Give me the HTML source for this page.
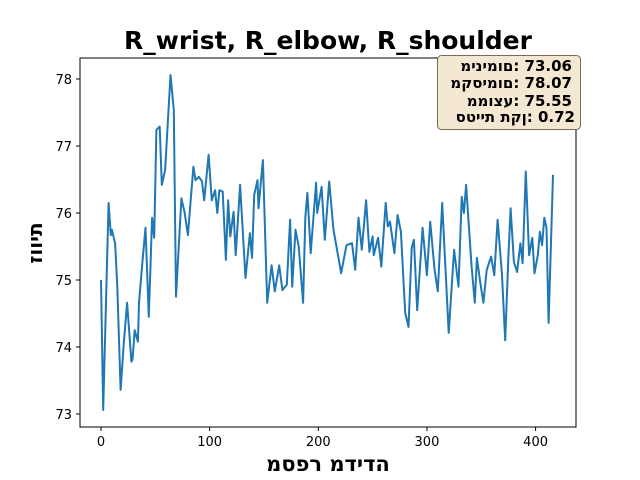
<!DOCTYPE html>
<html><head><meta charset="utf-8"><style>
body{margin:0;background:#fff;}
svg{display:block;font-family:"DejaVu Sans","Liberation Sans",sans-serif;}
.hb{unicode-bidi:bidi-override;direction:ltr;}
</style></head><body>
<svg id="chart" width="640" height="480" viewBox="0 0 640 480">
<rect width="640" height="480" fill="#fff"/>
<text x="328" y="49" text-anchor="middle" font-size="25" font-weight="bold">R_wrist, R_elbow, R_shoulder</text>
<g id="axes"></g>
<path id="series" fill="none" stroke="#1f77b4" stroke-width="2" stroke-linejoin="round"/>
<rect x="80" y="58" width="496" height="369" fill="none" stroke="#000" stroke-width="1"/>
<g>
<rect x="437.5" y="55.5" width="143" height="74" rx="4" fill="#f5e8d2" stroke="#7a6a58" stroke-width="1"/>
<text class="hb" direction="ltr" unicode-bidi="bidi-override" x="572" y="71" text-anchor="end" font-size="15" font-weight="bold">מינימום: 73.06</text>
<text class="hb" direction="ltr" unicode-bidi="bidi-override" x="572" y="88" text-anchor="end" font-size="15" font-weight="bold">מקסימום: 78.07</text>
<text class="hb" direction="ltr" unicode-bidi="bidi-override" x="572" y="106" text-anchor="end" font-size="15" font-weight="bold">ממוצע: 75.55</text>
<text class="hb" direction="ltr" unicode-bidi="bidi-override" x="575" y="122" text-anchor="end" font-size="15" font-weight="bold">סטיית תקן: 0.72</text>
</g>
<text class="hb" direction="ltr" unicode-bidi="bidi-override" x="328" y="471" text-anchor="middle" font-size="21" font-weight="bold">מספר מדידה</text>
<text class="hb" direction="ltr" unicode-bidi="bidi-override" transform="translate(42,243) rotate(-90)" text-anchor="middle" font-size="20" font-weight="bold">זווית</text>
</svg>
<script>
const indices=[0,2,5,7,9,10,13,15,18,21,24,28,29,31,34,35,38,41,44,47,49,51,54,56,59,64,67,69,74,77,80,85,87,90,93,95,99,102,105,107,109,112,115,117,119,122,124,128,133,137,139,141,144,145,149,153,157,160,164,167,171,174,176,179,182,186,188,190,193,198,199,203,206,210,214,220,221,226,231,234,237,240,244,247,250,251,255,258,262,264,266,270,273,276,280,283,286,288,291,296,300,303,307,310,314,320,325,329,332,334,336,341,344,346,349,352,355,359,362,365,369,372,375,377,380,383,386,388,391,394,397,399,402,404,406,408,410,412,416];
const values=[75.00,73.06,74.90,76.15,75.67,75.75,75.55,74.90,73.36,74.06,74.66,73.78,73.81,74.25,74.08,74.66,75.25,75.78,74.45,75.93,75.63,77.24,77.29,76.42,76.64,78.06,77.54,74.75,76.22,76.00,75.67,76.69,76.49,76.54,76.47,76.19,76.87,76.19,76.34,76.00,76.34,76.32,75.30,76.19,75.65,76.02,75.37,76.42,75.03,75.70,75.33,76.27,76.49,76.07,76.79,74.66,75.22,74.83,75.22,74.85,74.93,75.90,74.90,75.75,75.50,74.66,75.93,76.30,75.40,76.45,76.00,76.39,75.60,76.47,75.75,75.20,75.10,75.52,75.55,75.15,75.93,75.45,76.19,75.42,75.65,75.37,75.63,75.20,76.15,75.80,75.87,75.40,75.97,75.72,74.51,74.30,75.48,75.60,74.55,75.78,75.07,75.87,75.15,74.83,76.15,74.21,75.45,74.90,76.24,76.00,76.42,75.22,74.66,75.33,74.97,74.66,75.15,75.35,75.07,75.90,75.10,74.10,75.35,76.07,75.27,75.12,75.55,75.25,76.62,75.37,75.63,75.10,75.37,75.72,75.52,75.93,75.78,74.36,76.57];
const xTicks=[0,100,200,300,400];
const yTicks=[73,74,75,76,77,78];
function xs(v){return 101+v*1.0865;}
function ys(v){return 414-(v-73)*67;}
const NS="http://www.w3.org/2000/svg";
const ax=document.getElementById('axes');
xTicks.forEach(t=>{
  const l=document.createElementNS(NS,'line');
  l.setAttribute('x1',xs(t));l.setAttribute('x2',xs(t));l.setAttribute('y1',427);l.setAttribute('y2',431);l.setAttribute('stroke','#000');
  
  
  ax.appendChild(l);
  const tx=document.createElementNS(NS,'text');
  tx.setAttribute('x',xs(t));tx.setAttribute('y',446);tx.setAttribute('text-anchor','middle');tx.setAttribute('font-size','13');
  tx.textContent=t;
  
  
  ax.appendChild(tx);
});
yTicks.forEach(t=>{
  const l=document.createElementNS(NS,'line');
  l.setAttribute('x1',76);l.setAttribute('x2',80);l.setAttribute('y1',ys(t));l.setAttribute('y2',ys(t));l.setAttribute('stroke','#000');
  
  
  ax.appendChild(l);
  const tx=document.createElementNS(NS,'text');
  tx.setAttribute('x',72);tx.setAttribute('y',ys(t)+5);tx.setAttribute('text-anchor','end');tx.setAttribute('font-size','13');
  tx.textContent=t;
  
  
  ax.appendChild(tx);
});
document.getElementById('series').setAttribute('d',indices.map((i,k)=>(k?'L':'M')+xs(i).toFixed(1)+','+ys(values[k]).toFixed(1)).join(''));
</script>
</body></html>
